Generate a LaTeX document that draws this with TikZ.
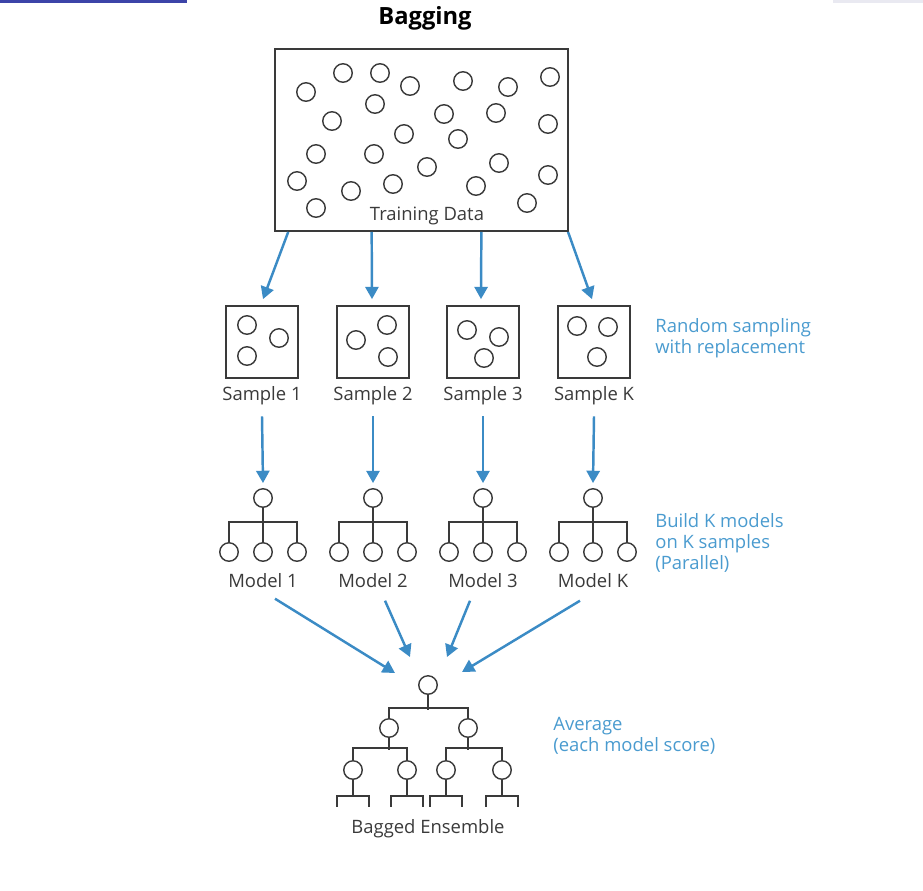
\documentclass[tikz,border=0pt]{standalone}
\usepackage{fontspec}
\setmainfont{Open Sans}
\usetikzlibrary{arrows.meta,positioning,calc}
\definecolor{bag}{HTML}{3B8BC5}
\definecolor{bagtxt}{HTML}{4A9BCF}
\definecolor{ink}{HTML}{3A3A3A}
\definecolor{topbar}{HTML}{3C44A8}
\definecolor{topgrey}{HTML}{E9E9F1}
\newcommand{\txtsize}{\fontsize{10.5}{12}\selectfont}
\tikzset{
  dot/.style={circle,draw=ink,line width=0.8pt,minimum size=0.37cm,inner sep=0pt},
  sbox/.style={draw=ink,line width=1pt,minimum size=1.44cm,inner sep=0pt},
  lbl/.style={font=\txtsize,text=ink,inner sep=1pt},
  note/.style={font=\txtsize,text=bagtxt,align=left,anchor=west,inner sep=0pt},
  ar/.style={-{Triangle[length=7pt,width=7.5pt]},line width=1.4pt,draw=bag},
  br/.style={draw=ink,line width=0.8pt},
}

\begin{document}
\begin{tikzpicture}[x=0.02cm,y=-0.02cm]
\useasboundingbox (0,0) rectangle (923,890);
\fill[topbar] (0,0) rectangle (187,2.5);
\fill[topgrey] (833,0) rectangle (923,2.5);

% title and training data
\node[font=\fontsize{13.5}{16}\selectfont\bfseries,text=black] (title) at (425,18) {Bagging};
\node[draw=ink,line width=1.1pt,minimum width=5.86cm,minimum height=3.64cm,inner sep=0pt] (td) at (421.5,140) {};
\foreach \px/\py [count=\n] in {306/92,343/73,380/73,410/86,463/81,508/87,550/77,
  375/104,332/121,444/114,496/113,548/124,404/134,458/139,316/154,374/154,
  427/167,499/163,548/175,297/181,351/191,393/184,476/186,316/208,527/203}
  \node[dot] (d\n) at (\px,\py) {};
\node[lbl] (tdl) at (427,215.5) {Training Data};

% samples
\foreach \i/\x/\k in {1/262/1,2/373/2,3/483/3,4/594/K} {
  \node[sbox] (s\i) at (\x,342) {};
  \node[lbl] (sl\i) at (\x,396) {Sample \k};
}
\foreach \px/\py [count=\n] in {247/325,279/338,247/356, 356/340,387/325,388/357,
  467/330,499/337,484/358, 577/326,608/327,597/357}
  \node[dot] (c\n) at (\px,\py) {};
\draw[ar] ($(td.south west)!0.048!(td.south east)$) -- ($(s1.north)+(1,-6)$);
\draw[ar] ($(td.south west)!0.331!(td.south east)$) -- ($(s2.north)+(-1,-6)$);
\draw[ar] ($(td.south west)!0.703!(td.south east)$) -- ($(s3.north)+(-2,-6)$);
\draw[ar] ($(td.south west)!0.997!(td.south east)$) -- ($(s4.north)+(-2,-6)$);
\node[note] (n1) at (655,338) {Random sampling\\with replacement};

% models
\foreach \i/\x/\k in {1/263/1,2/373/2,3/483/3,4/593/K} {
  \node[dot] (m\i) at (\x,498) {};
  \node[dot] (m\i a) at (\x-34,552) {};
  \node[dot] (m\i b) at (\x,552) {};
  \node[dot] (m\i c) at (\x+34,552) {};
  \draw[br] (m\i.south) -- (m\i b.north);
  \draw[br] (m\i a.north) -- ++(0,-20) -| (m\i c.north);
  \node[lbl] (ml\i) at (\x,580.5) {Model \k};
  \draw[ar] ($(sl\i.south)+(0,9)$) -- ($(m\i.north)+(0,-5)$);
}
\node[note] (n2) at (655,543) {Build K models\\on K samples\\(Parallel)};

% bagged ensemble
\node[dot] (er) at (428,685) {};
\node[dot] (e1) at (389,728) {};
\node[dot] (e2) at (468,728) {};
\node[dot] (e11) at (353,770) {};
\node[dot] (e12) at (407,770) {};
\node[dot] (e21) at (446,770) {};
\node[dot] (e22) at (502,770) {};
\draw[br] (er.south) -- ++(0,15);
\draw[br] (e1.north) -- ++(0,-10) -| (e2.north);
\draw[br] (e1.south) -- ++(0,12);
\draw[br] (e2.south) -- ++(0,12);
\draw[br] (e11.north) -- ++(0,-12) -| (e12.north);
\draw[br] (e21.north) -- ++(0,-12) -| (e22.north);
\foreach \e in {e11,e12,e21,e22}
  \draw[br] (\e.south) -- ++(0,16) ++(-16,11) -- ++(0,-11) -- ++(32,0) -- ++(0,11);
\node[lbl] (el) at (428,829) {Bagged Ensemble};
\node[note] (n3) at (553,736) {Average\\(each model score)};

\draw[ar] ($(ml1.south)+(12,9)$) -- ($(er)+(-33,-12)$);
\draw[ar] ($(ml2.south)+(12,11)$) -- ($(er)+(-18,-28)$);
\draw[ar] ($(ml3.south)+(-13,11)$) -- ($(er)+(19,-28)$);
\draw[ar] ($(ml4.south)+(-13,11)$) -- ($(er)+(34,-13)$);
\end{tikzpicture}
\end{document}
